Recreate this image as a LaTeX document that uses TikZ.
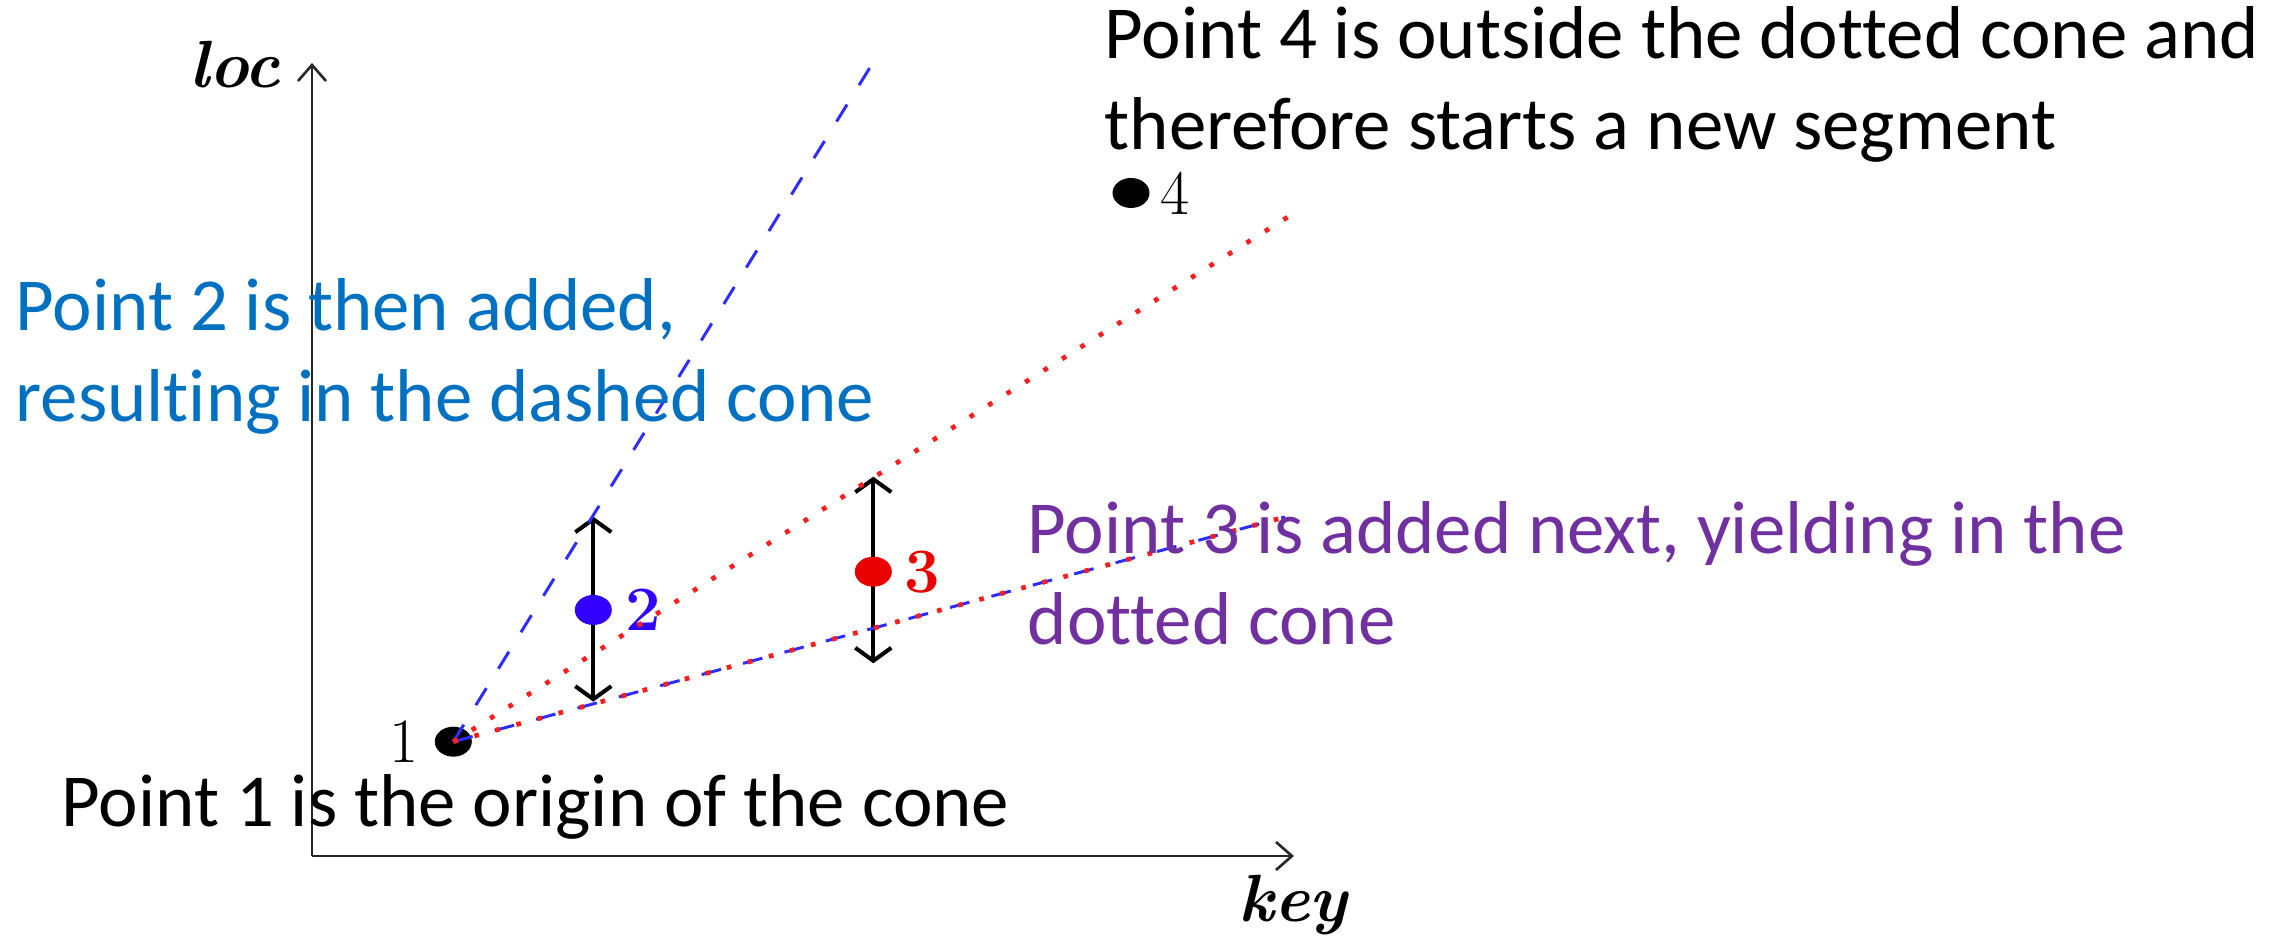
\documentclass[tikz,border=0pt]{standalone}
\usepackage{fontspec}
\setmainfont{Carlito}[Ligatures=NoCommon]
\newfontfamily\cmfont{Latin Modern Roman}
\usetikzlibrary{arrows.meta,positioning,shapes.geometric}
\definecolor{noteblue}{RGB}{0,112,192}
\definecolor{notepurple}{RGB}{112,48,160}
\definecolor{dashblue}{RGB}{45,45,255}
\definecolor{dotred}{RGB}{250,30,30}
\definecolor{ptblue}{RGB}{50,0,255}
\definecolor{ptred}{RGB}{235,0,0}

\begin{document}
\begin{tikzpicture}[
  ptdot/.style={ellipse,inner sep=0pt,minimum width=0.37cm,minimum height=0.30cm},
  num/.style={inner sep=0pt,font=\cmfont\fontsize{18}{18}\selectfont},
  axisline/.style={black!85,line width=0.75pt,-{Straight Barb[length=1.6mm,width=2.8mm]}},
  errbar/.style={line width=1.15pt,{Straight Barb[length=1.3mm,width=3.6mm]}-{Straight Barb[length=1.3mm,width=3.6mm]}},
  dashcone/.style={dashblue,line width=0.85pt,dash pattern=on 5.7pt off 6.5pt},
  dotcone/.style={dotred,line width=1.35pt,dash pattern=on 1.35pt off 4.85pt},
  note/.style={anchor=base west,align=left,inner sep=0pt,font=\fontsize{21.3}{26}\selectfont},
  axlabel/.style={font=\cmfont\bfseries\itshape\fontsize{19}{19}\selectfont}]
  \useasboundingbox (0,0) rectangle (22.85,9.45);
  % Axes
  \coordinate (o) at (3.12,0.89);
  \coordinate (ytop) at (3.12,8.82);
  \coordinate (xend) at (12.94,0.89);
  \draw[axisline] (o) -- (ytop);
  \draw[axisline] (o) -- (xend);
  \node[axlabel,anchor=base] (loc) at (2.35,8.57) {loc};
  \node[axlabel,anchor=base] (key) at (12.93,0.23) {key};
  % Error bars
  \coordinate (u2) at (5.933,4.283);
  \coordinate (l2) at (5.933,2.433);
  \coordinate (u3) at (8.733,4.683);
  \coordinate (l3) at (8.733,2.817);
  \draw[errbar] (l2) -- (u2);
  \draw[errbar] (l3) -- (u3);
  % Points
  \node[ptdot,fill=black] (p1) at (4.533,2.033) {};
  \node[ptdot,fill=ptblue] (p2) at (5.933,3.35) {};
  \node[ptdot,fill=ptred] (p3) at (8.733,3.733) {};
  \node[ptdot,fill=black] (p4) at (11.31,7.52) {};
  \node[num,left=0.15cm of p1] (n1) {1};
  \node[num,ptblue,font=\cmfont\bfseries\fontsize{18}{18}\selectfont,right=0.12cm of p2] (n2) {2};
  \node[num,ptred,font=\cmfont\bfseries\fontsize{18}{18}\selectfont,right=0.11cm of p3] (n3) {3};
  \node[num,right=0.1cm of p4] (n4) {4};
  % Cones
  \coordinate (dashtop) at (8.74,8.84);
  \coordinate (lowend) at (12.85,4.28);
  \coordinate (dottop) at (12.91,7.30);
  \draw[dashcone] (p1.center) -- (dashtop);
  \draw[dashcone] (p1.center) -- (lowend);
  \draw[dotcone] (p1.center) -- (dottop);
  \draw[dotcone] (p1.center) -- (lowend);
  % Notes
  \node[note] (t4) at (11.04,7.953) {Point 4 is outside the dotted cone and\\therefore starts a new segment};
  \node[note,noteblue] (t2) at (0.15,5.233) {Point 2 is then added,\\resulting in the dashed cone};
  \node[note,notepurple] (t3) at (10.27,3.0) {Point 3 is added next, yielding in the\\dotted cone};
  \node[note] (t1) at (0.61,1.183) {Point 1 is the origin of the cone};
\end{tikzpicture}
\end{document}
